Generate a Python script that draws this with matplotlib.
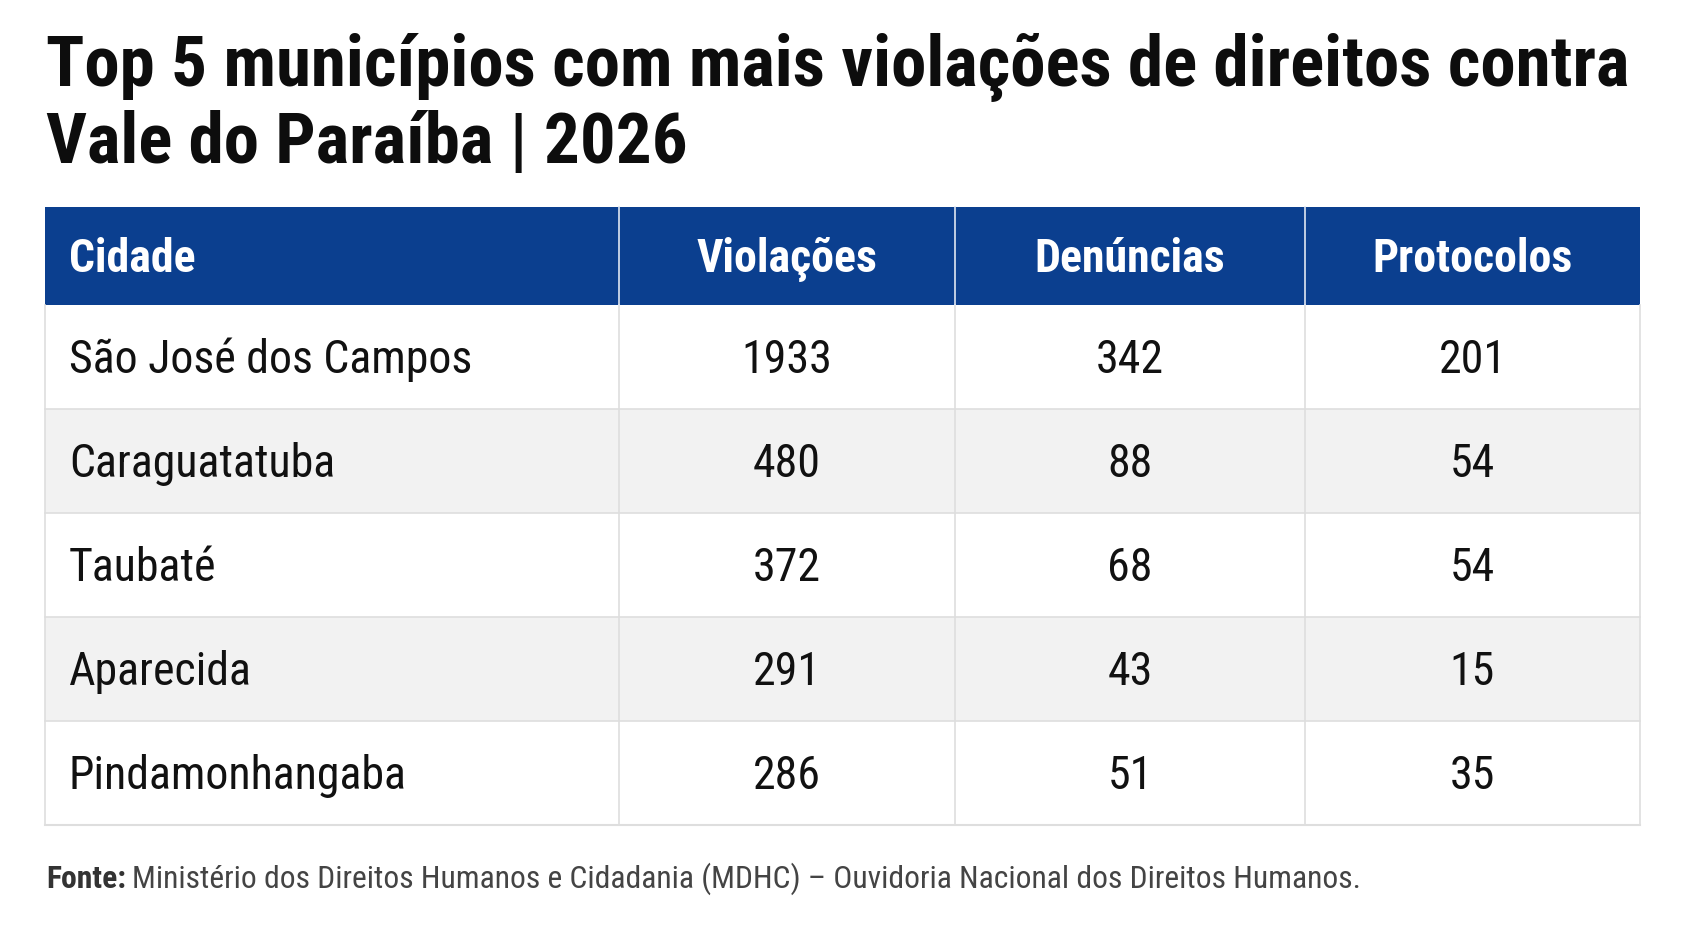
import matplotlib
matplotlib.use("Agg")
from matplotlib import pyplot as plt, font_manager
from matplotlib.patches import Rectangle

title_lines = ["Top 5 municípios com mais violações de direitos contra",
               "Vale do Paraíba | 2026"]
columns = ["Cidade", "Violações", "Denúncias", "Protocolos"]
cities = ["São José dos Campos", "Caraguatatuba", "Taubaté", "Aparecida", "Pindamonhangaba"]
violacoes = [1933, 480, 372, 291, 286]
denuncias = [342, 88, 68, 43, 51]
protocolos = [201, 54, 54, 15, 35]
source_bold = "Fonte:"
source_text = "Ministério dos Direitos Humanos e Cidadania (MDHC) – Ouvidoria Nacional dos Direitos Humanos."

available = {f.name for f in font_manager.fontManager.ttflist}
cond = next(n for n in ["Roboto Condensed", "Barlow Condensed", "Fira Sans Condensed", "DejaVu Sans"]
            if n in available)
fam = [cond, "DejaVu Sans"]

W, H = 1683, 935
fig = plt.figure(figsize=(W / 100, H / 100), dpi=100)
ax = fig.add_axes([0, 0, 1, 1])
ax.set_xlim(0, W)
ax.set_ylim(H, 0)
ax.axis("off")

blue = "#0b3f8f"
grid = "#dedede"
shade = "#f2f2f2"

# layout in pixels
left, right = 45, 1640
col_edges = [left, 619, 955, 1305, right]
head_top, head_h, row_h = 207, 98, 104
pad = 24

# title
for k, line in enumerate(title_lines):
    ax.text(46, 86 + 77 * k, line, family=fam, fontsize=51, fontweight=900,
            color="#0d0d0d", va="baseline", ha="left")

# header
ax.add_patch(Rectangle((left, head_top), right - left, head_h, color=blue, lw=0))
cy = head_top + head_h / 2 + 3
for j, name in enumerate(columns):
    if j == 0:
        ax.text(col_edges[0] + pad, cy, name, family=fam, fontsize=33, fontweight="bold",
                color="white", va="center", ha="left")
    else:
        cx = (col_edges[j] + col_edges[j + 1]) / 2
        ax.text(cx, cy, name, family=fam, fontsize=33, fontweight="bold",
                color="white", va="center", ha="center")

# body
rows = list(zip(cities, violacoes, denuncias, protocolos))
body_top = head_top + head_h
for i, row in enumerate(rows):
    y0 = body_top + i * row_h
    if i % 2 == 1:
        ax.add_patch(Rectangle((left, y0), right - left, row_h, color=shade, lw=0))
    cy = y0 + row_h / 2 + 3
    ax.text(col_edges[0] + pad, cy, row[0], family=fam, fontsize=33,
            color="#111111", va="center", ha="left")
    for j in range(1, 4):
        cx = (col_edges[j] + col_edges[j + 1]) / 2
        ax.text(cx, cy, str(row[j]), family=fam, fontsize=33,
                color="#111111", va="center", ha="center")

# grid lines
body_bottom = body_top + len(rows) * row_h
for i in range(1, len(rows)):
    y = body_top + i * row_h
    ax.plot([left, right], [y, y], color=grid, lw=1.2)
ax.plot([left, right], [body_bottom, body_bottom], color=grid, lw=1.5)
for x in col_edges:
    ax.plot([x, x], [body_top, body_bottom], color=grid, lw=1.2)
for x in col_edges[1:-1]:
    ax.plot([x, x], [head_top, body_top], color="#dfe6f2", lw=1.2)

# source
t = ax.text(46, 888, source_bold, family=fam, fontsize=22.8, fontweight="bold",
            color="#333333", va="baseline", ha="left")
fig.canvas.draw()
bb = t.get_window_extent()
ax.text(46 + bb.width + 6, 888, source_text, family=fam, fontsize=22.8,
        color="#444444", va="baseline", ha="left")

fig.savefig("out.png", dpi=100, facecolor="white")
